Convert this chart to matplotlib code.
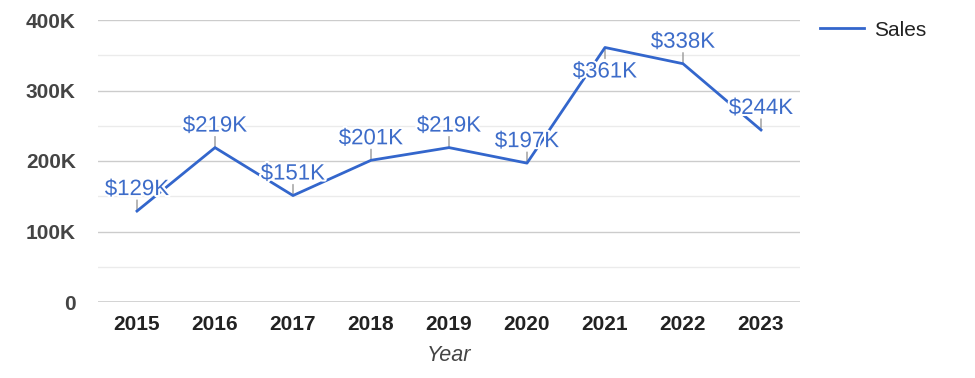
import matplotlib.pyplot as plt
import matplotlib.patheffects as pe
from matplotlib.ticker import MultipleLocator, FuncFormatter

years = ['2015', '2016', '2017', '2018', '2019', '2020', '2021', '2022', '2023']
sales = [129, 219, 151, 201, 219, 197, 361, 338, 244]  # thousands
labels = ['$129K', '$219K', '$151K', '$201K', '$219K', '$197K', '$361K', '$338K', '$244K']
label_below = [False, False, False, False, False, False, True, False, False]

plt.rcParams['font.family'] = ['Liberation Sans', 'DejaVu Sans']
blue = '#3366cc'
px = 72 / 100  # points per pixel

fig = plt.figure(figsize=(9.75, 3.78), dpi=100)
ax = fig.add_axes([98 / 975, 1 - 302 / 378, 702 / 975, 282 / 378])

x = list(range(len(years)))
ax.plot(x, sales, color=blue, linewidth=2, label='Sales', zorder=3)

# data labels with short leader lines
halo = [pe.withStroke(linewidth=3, foreground='white')]
for xi, v, lab, below in zip(x, sales, labels, label_below):
    sign = -1 if below else 1
    ax.annotate('', xy=(xi, v), xytext=(0, sign * 11 * px), textcoords='offset points',
                arrowprops=dict(arrowstyle='-', color='#999999', lw=1,
                                shrinkA=0, shrinkB=0), zorder=2)
    off = -30 if below else 16
    ax.annotate(lab, xy=(xi, v), xytext=(0, off * px), textcoords='offset points',
                ha='center', va='baseline', color='#3d6cc9', fontsize=16,
                path_effects=halo, zorder=4)

ax.set_xlim(-0.5, len(years) - 0.5)
ax.set_ylim(0, 400)
ax.yaxis.set_major_locator(MultipleLocator(100))
ax.yaxis.set_minor_locator(MultipleLocator(50))
ax.yaxis.set_major_formatter(FuncFormatter(lambda v, p: '0' if v == 0 else f'{int(v)}K'))
ax.grid(axis='y', which='major', color='#cccccc', linewidth=1, zorder=0)
ax.grid(axis='y', which='minor', color='#ebebeb', linewidth=1, zorder=0)
ax.axhline(0, color='#333333', linewidth=1, zorder=1)

ax.set_xticks(x)
ax.set_xticklabels(years)
for s in ax.spines.values():
    s.set_visible(False)
ax.tick_params(axis='both', which='both', length=0)
ax.tick_params(axis='y', pad=16, labelsize=15, labelcolor='#444444')
ax.tick_params(axis='x', pad=9, labelsize=15, labelcolor='#222222')
for t in ax.get_yticklabels() + ax.get_xticklabels():
    t.set_fontweight('bold')

ax.set_xlabel('Year', fontsize=15.5, style='italic', color='#444444', labelpad=8.5)

fig.legend(['Sales'], loc='center left', bbox_to_anchor=(820 / 975, 1 - 30 / 378),
           frameon=False, fontsize=15, handlelength=2.1, handletextpad=0.5,
           borderpad=0, borderaxespad=0, labelcolor='#222222')

fig.savefig('out.png', dpi=100)
